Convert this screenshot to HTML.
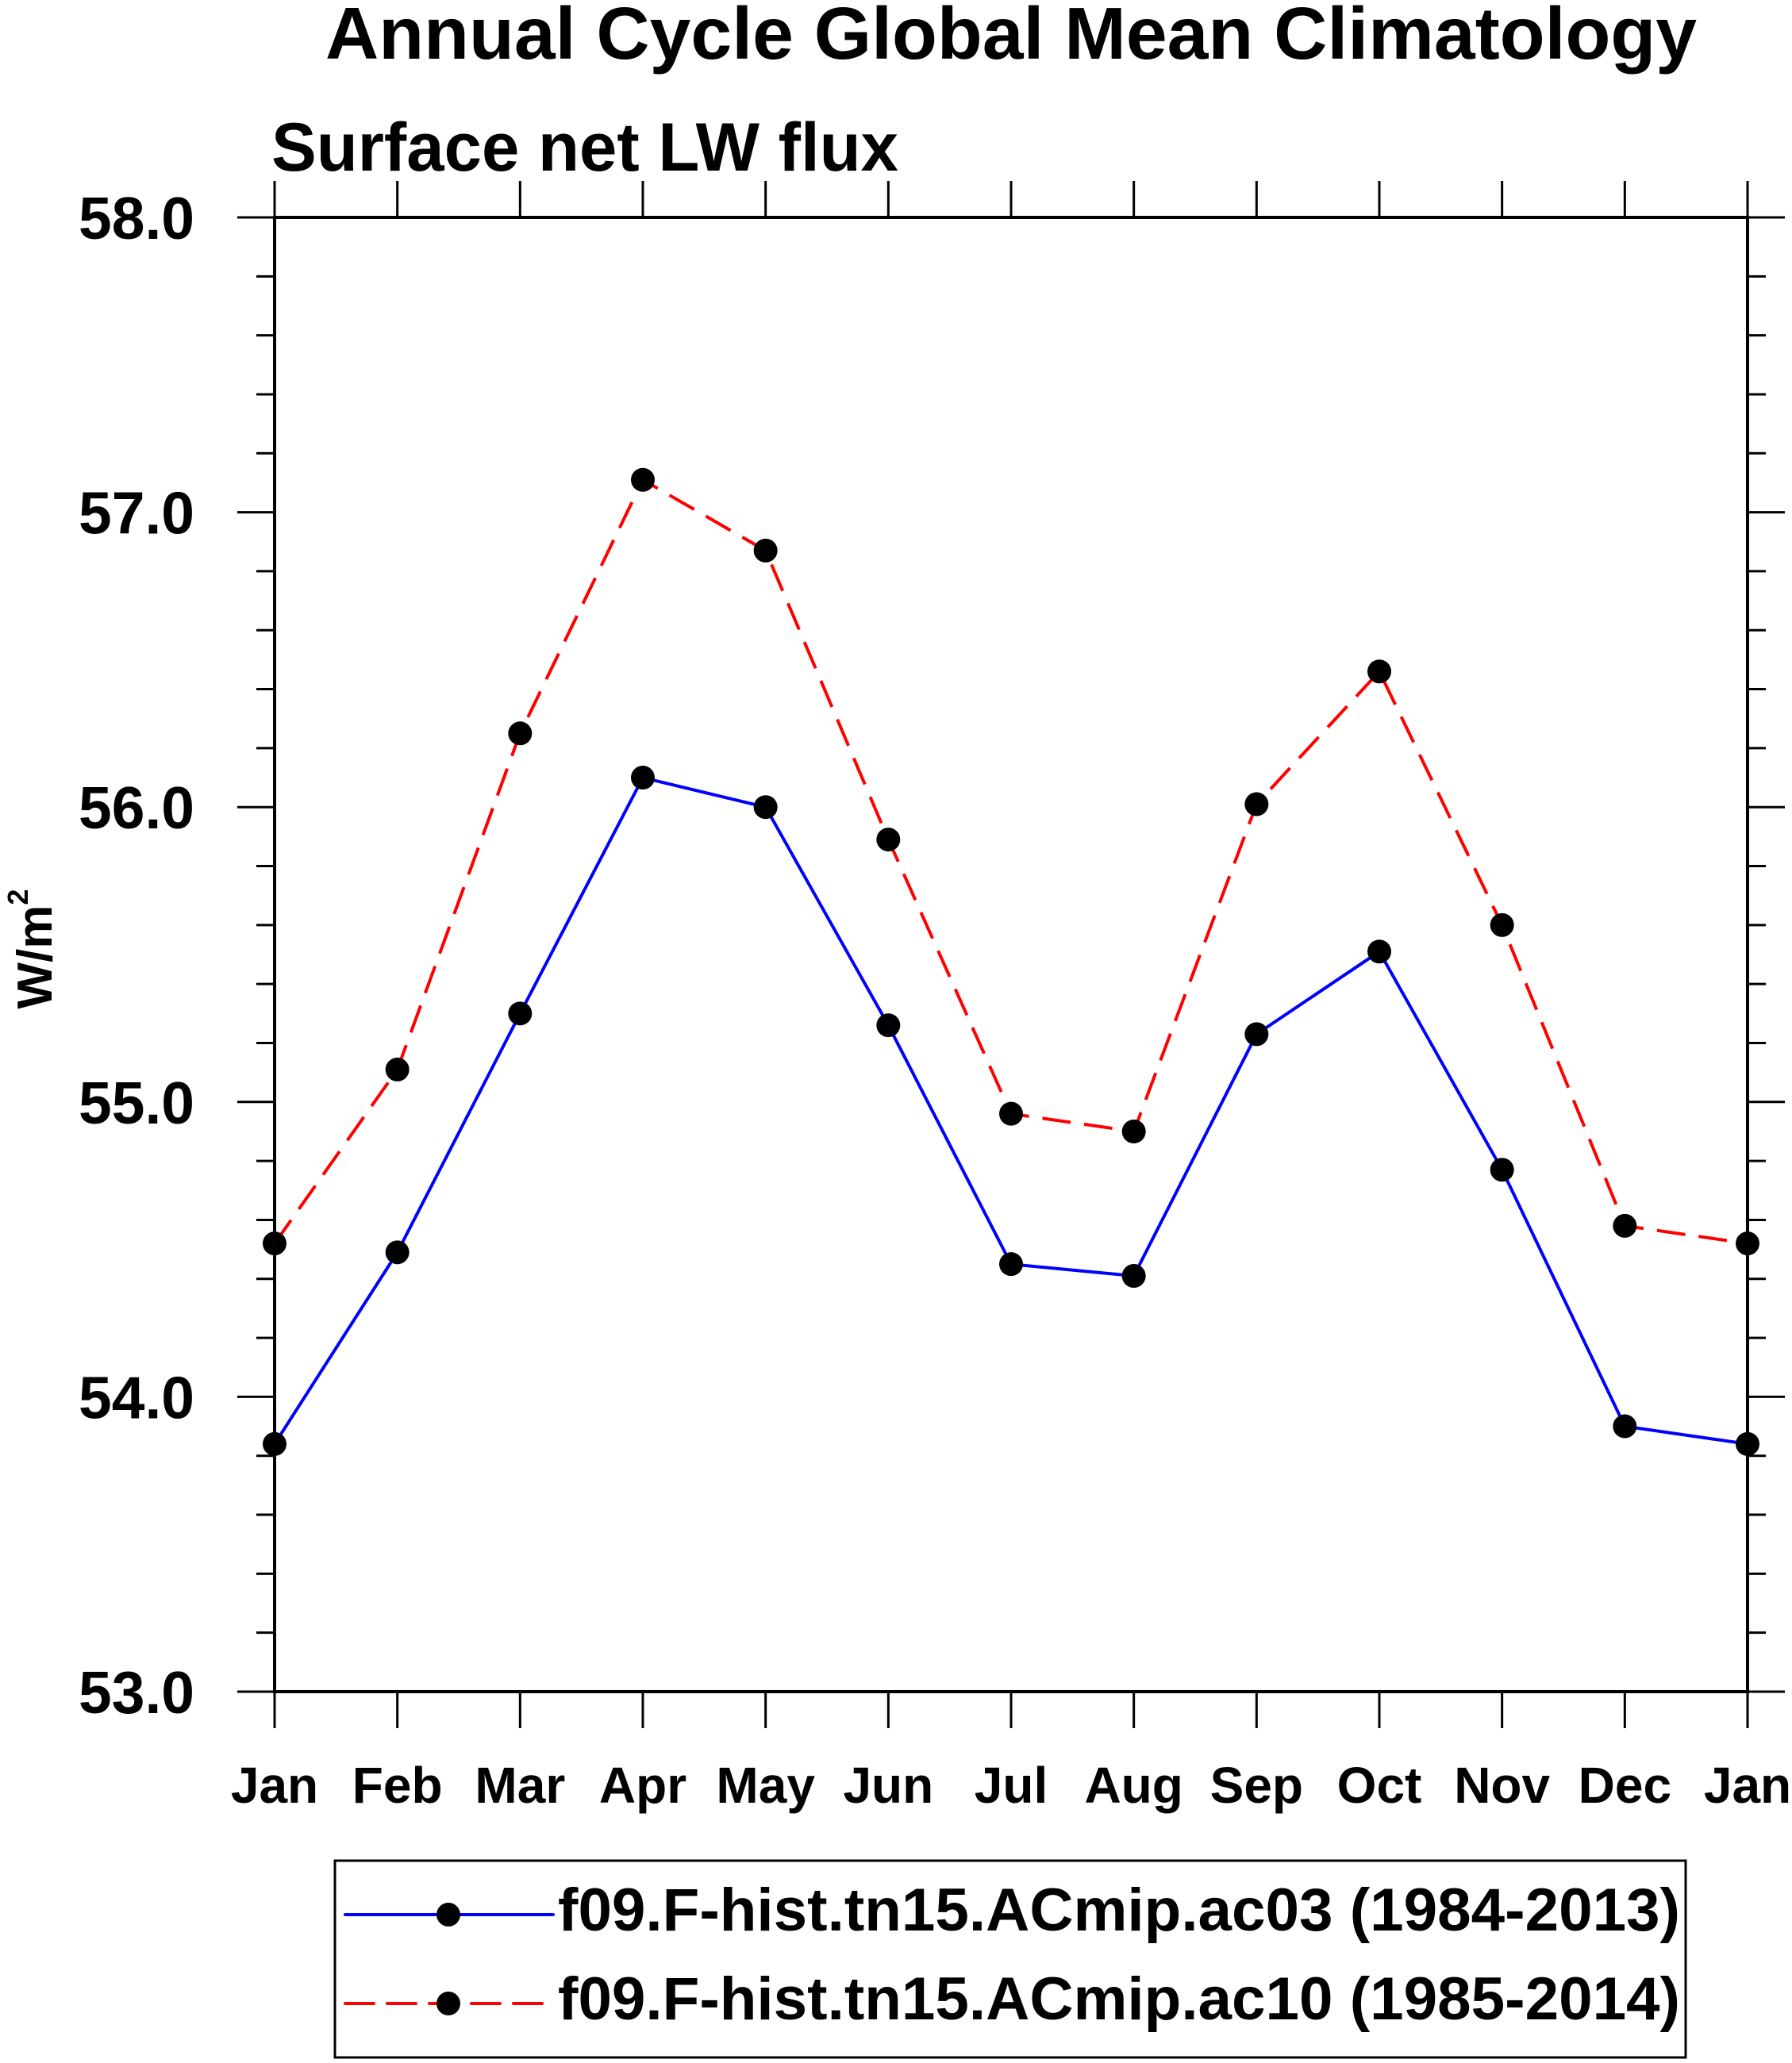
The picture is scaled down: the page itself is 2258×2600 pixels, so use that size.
<!DOCTYPE html>
<html><head><meta charset="utf-8"><style>
html,body{margin:0;padding:0;background:#fff;}
svg{display:block;font-family:"Liberation Sans",sans-serif;font-weight:bold;}
</style></head><body>
<svg id="chart" width="2258" height="2600" viewBox="0 0 2258 2600" xmlns="http://www.w3.org/2000/svg">
<text x="410" y="74" font-size="93" textLength="1728" lengthAdjust="spacingAndGlyphs">Annual Cycle Global Mean Climatology</text>
<text x="342" y="215" font-size="86" textLength="790" lengthAdjust="spacingAndGlyphs">Surface net LW flux</text>
<text transform="translate(65,1196) rotate(-90)" font-size="62" text-anchor="middle">W/m<tspan font-size="36" dy="-30">2</tspan></text>
<g id="axes"></g>
<g id="series"></g>
<rect x="422" y="2345" width="1702" height="248" fill="none" stroke="#000" stroke-width="3"/>
<g>
<line x1="435" y1="2413" x2="697" y2="2413" stroke="#0000ff" stroke-width="4" stroke-linecap="round"/>
<circle cx="565" cy="2413" r="15" fill="#000"/>
<text x="703" y="2433" font-size="76" textLength="1414" lengthAdjust="spacingAndGlyphs">f09.F-hist.tn15.ACmip.ac03 (1984-2013)</text>
</g>
<g>
<line x1="435" y1="2525" x2="697" y2="2525" stroke="#ff0000" stroke-width="4" stroke-dasharray="36,17" stroke-linecap="round"/>
<circle cx="565" cy="2525" r="15" fill="#000"/>
<text x="703" y="2545" font-size="76" textLength="1414" lengthAdjust="spacingAndGlyphs">f09.F-hist.tn15.ACmip.ac10 (1985-2014)</text>
</g>
</svg>
<script>
const months = ["Jan","Feb","Mar","Apr","May","Jun","Jul","Aug","Sep","Oct","Nov","Dec","Jan"];
const ac03 = [53.84,54.49,55.30,56.10,56.00,55.26,54.45,54.41,55.23,55.51,54.77,53.90,53.84];
const ac10 = [54.52,55.11,56.25,57.11,56.87,55.89,54.96,54.90,56.01,56.46,55.60,54.58,54.52];
const yTicks = [53,54,55,56,57,58];
const yTickLabels = ["53.0","54.0","55.0","56.0","57.0","58.0"];
const yMin = 53, yMax = 58;

const NS = "http://www.w3.org/2000/svg";
const L = 346, R = 2202, T = 274, B = 2132;
function xs(i){ return L + (R - L) * i / (months.length - 1); }
function ys(v){ return B - (B - T) * (v - yMin) / (yMax - yMin); }
function mk(tag, attrs, parent){
  const e = document.createElementNS(NS, tag);
  for (const k in attrs) e.setAttribute(k, attrs[k]);
  parent.appendChild(e); return e;
}
const axes = document.getElementById("axes");
const frame = mk("rect", {x:L, y:T, width:R-L, height:B-T, fill:"none", stroke:"#000", "stroke-width":4}, axes);


for (let v = yMin; v <= yMax + 1e-9; v += 0.2) {
  const y = ys(v);
  const major = Math.abs(v - Math.round(v)) < 1e-6;
  const len = major ? 47 : 23;
  mk("line", {x1:L-len, y1:y, x2:L, y2:y, stroke:"#000", "stroke-width":3}, axes);
  mk("line", {x1:R, y1:y, x2:R+len, y2:y, stroke:"#000", "stroke-width":3}, axes);
}
yTicks.forEach((v, i) => {
  const t = mk("text", {x:245, y:ys(v)+27, "font-size":75, "text-anchor":"end"}, axes);
  t.textContent = yTickLabels[i];
  
  
});
months.forEach((m, i) => {
  const x = xs(i);
  mk("line", {x1:x, y1:B, x2:x, y2:B+46, stroke:"#000", "stroke-width":3}, axes);
  mk("line", {x1:x, y1:T-46, x2:x, y2:T, stroke:"#000", "stroke-width":3}, axes);
  const t = mk("text", {x:x, y:2272, "font-size":64, "text-anchor":"middle"}, axes);
  t.textContent = m;
  
  
});
const series = document.getElementById("series");
function draw(vals, color, dash, name){
  const pts = vals.map((v, i) => xs(i) + "," + ys(v)).join(" ");
  const attrs = {points:pts, fill:"none", stroke:color, "stroke-width":4};
  if (dash) attrs["stroke-dasharray"] = dash;
  const pl = mk("polyline", attrs, series);
  
  
  vals.forEach((v, i) => {
    const c = mk("circle", {cx:xs(i), cy:ys(v), r:15, fill:"#000"}, series);
    
    
  });
}
draw(ac03, "#0000ff", null, "ac03");
draw(ac10, "#ff0000", "36,17", "ac10");
</script>
</body></html>
